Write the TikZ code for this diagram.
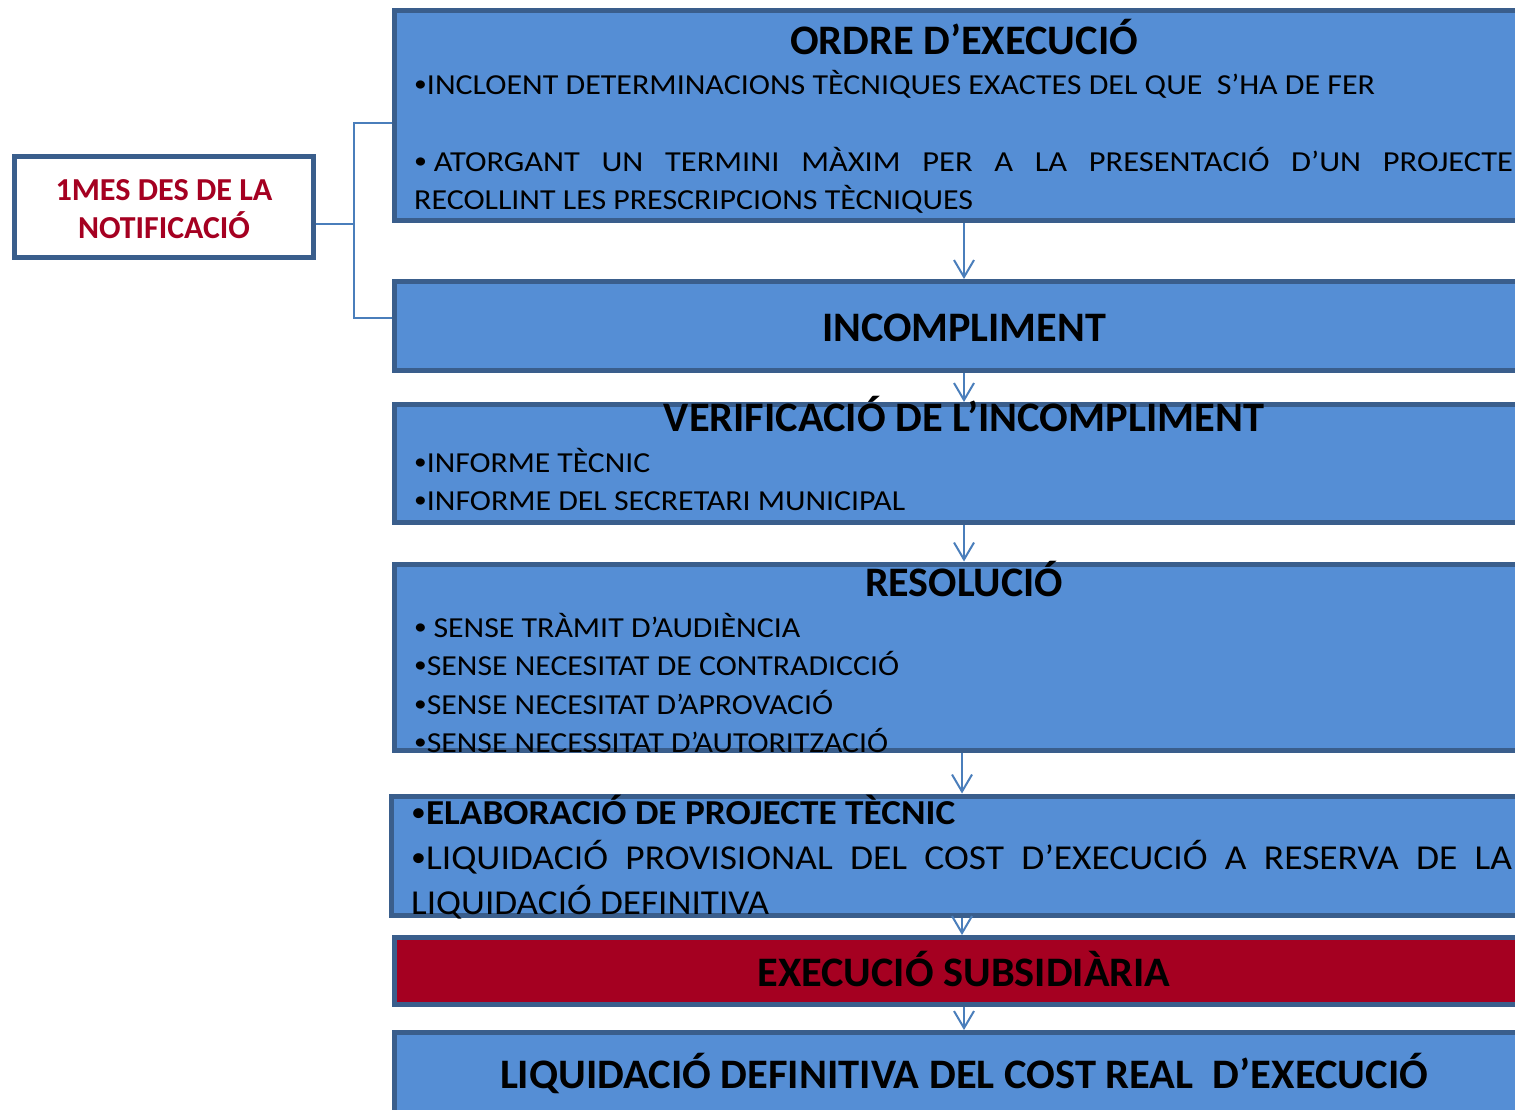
\documentclass[tikz,border=0pt]{standalone}
\usepackage{fontspec}
\setmainfont{Carlito}
\usetikzlibrary{arrows.meta}
\definecolor{boxfill}{RGB}{85,142,213}
\definecolor{boxline}{RGB}{58,94,140}
\definecolor{conn}{RGB}{74,126,187}
\definecolor{darkred}{RGB}{165,0,33}
\newcommand\fw[2]{\resizebox{#1pt}{\height}{#2}}
\newcommand\bul{\raisebox{0.07em}{\scalebox{0.8}{•}}}
\tikzset{
  box/.style={rectangle, draw=boxline, line width=5pt, fill=boxfill, inner sep=0pt},
  redbox/.style={box, fill=darkred},
  lblbox/.style={rectangle, draw=boxline, line width=5pt, fill=white, inner sep=0pt},
  ttl/.style={anchor=base, inner sep=0pt, font=\fontsize{42}{50}\selectfont\bfseries},
  bodyt/.style={anchor=base west, inner sep=0pt, font=\fontsize{29}{35}\selectfont},
  bodyv/.style={anchor=base west, inner sep=0pt, font=\fontsize{35}{42}\selectfont},
  lblt/.style={anchor=base, inner sep=0pt, text=darkred, font=\fontsize{32}{38}\selectfont\bfseries},
  arr/.style={draw=conn, line width=2pt, -{Straight Barb[length=17pt,width=20pt,line width=2pt]}},
  brk/.style={draw=conn, line width=2pt},
}
\begin{document}
\begin{tikzpicture}[x=1pt,y=-1pt]
\useasboundingbox (0,0) rectangle (1515,1109);
\clip (0,0) rectangle (1515,1109);
\fill[white] (0,0) rectangle (1515,1109);
% boxes
\node[box, minimum width=1139pt, minimum height=210pt] (b1) at (964,115.5) {};
\node[box, minimum width=1139pt, minimum height=89pt] (b2) at (964,326) {};
\node[box, minimum width=1139pt, minimum height=118pt] (b3) at (964,463.5) {};
\node[box, minimum width=1139pt, minimum height=186.5pt] (b4) at (964,657.25) {};
\node[box, minimum width=1141pt, minimum height=119.5pt] (b5) at (962,855.75) {};
\node[redbox, minimum width=1139pt, minimum height=66.5pt] (b6) at (964,970.75) {};
\node[box, minimum width=1139pt, minimum height=97.5pt] (b7) at (964,1081.25) {};
\node[lblbox, minimum width=299pt, minimum height=101pt] (lb) at (164,207) {};
% bracket
\coordinate (j) at (354,224);
\draw[brk] (lb.east |- j) -- (j);
\draw[brk] (b1.west |- 0,123) -| (j) |- (b2.west |- 0,318);
% arrows
\draw[arr] (b1.south) -- (b2.north);
\draw[arr] (b2.south) -- (b3.north);
\draw[arr] (b3.south) -- (b4.north);
\draw[arr] (b5.north |- b4.south) -- (b5.north);
\draw[arr] (b5.south) -- (b5.south |- b6.north);
\draw[arr] (b6.south) -- (b7.north);
% left label
\node[lblt] (l1) at (164,200) {\fw{217}{1MES DES DE LA}};
\node[lblt] (l2) at (164,238) {\fw{172}{NOTIFICACIÓ}};
% box 1
\node[ttl] (t1) at (964,54) {\fw{348}{ORDRE D’EXECUCIÓ}};
\node[bodyt] (t1a) at (414,94) {\fw{961}{\bul INCLOENT DETERMINACIONS TÈCNIQUES EXACTES DEL QUE \ S’HA DE FER}};
\node[bodyt] (t1b) at (414,171) {\scalebox{1.12}[1]{\makebox[981pt][s]{\bul\hspace{6pt}ATORGANT UN TERMINI MÀXIM PER A LA PRESENTACIÓ D’UN PROJECTE}}};
\node[bodyt] (t1c) at (414,209) {\fw{559}{RECOLLINT LES PRESCRIPCIONS TÈCNIQUES}};
% box 2
\node[ttl] (t2) at (964,341) {\fw{284}{INCOMPLIMENT}};
% box 3
\node[ttl] (t3) at (964,431) {\fw{600}{VERIFICACIÓ DE L’INCOMPLIMENT}};
\node[bodyt] (t3a) at (414,472) {\fw{236}{\bul INFORME TÈCNIC}};
\node[bodyt] (t3b) at (414,510) {\fw{491}{\bul INFORME DEL SECRETARI MUNICIPAL}};
% box 4
\node[ttl] (t4) at (964,596) {\fw{198}{RESOLUCIÓ}};
\node[bodyt] (t4a) at (414,637) {\fw{386}{\bul\hspace{6pt}SENSE TRÀMIT D’AUDIÈNCIA}};
\node[bodyt] (t4b) at (414,675) {\fw{485}{\bul SENSE NECESITAT DE CONTRADICCIÓ}};
\node[bodyt] (t4c) at (414,714) {\fw{419}{\bul SENSE NECESITAT D’APROVACIÓ}};
\node[bodyt] (t4d) at (414,752) {\fw{474}{\bul SENSE NECESSITAT D’AUTORITZACIÓ}};
% box 5
\node[bodyv] (t5a) at (411,824) {\fw{544}{\bul\textbf{ELABORACIÓ DE PROJECTE TÈCNIC}}};
\node[bodyv] (t5b) at (411,869) {\scalebox{1.07}[1]{\makebox[1029pt][s]{\bul LIQUIDACIÓ PROVISIONAL DEL COST D’EXECUCIÓ A RESERVA DE LA}}};
\node[bodyv] (t5c) at (411,914) {\fw{358}{LIQUIDACIÓ DEFINITIVA}};
% box 6
\node[ttl] (t6) at (964,986) {\fw{413}{EXECUCIÓ SUBSIDIÀRIA}};
% box 7
\node[ttl] (t7) at (964,1088) {\fw{928}{LIQUIDACIÓ DEFINITIVA DEL COST REAL \ D’EXECUCIÓ}};
\end{tikzpicture}
\end{document}
